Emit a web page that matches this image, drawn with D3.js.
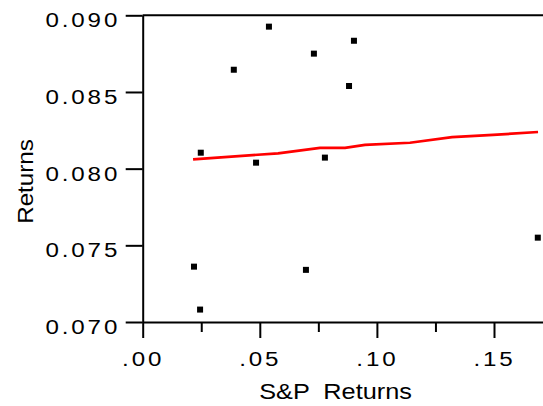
<!DOCTYPE html>
<html lang='en'>
	<head>
		<meta charset='utf-8'>
		<title>Returns vs S&amp;P Returns</title>
		<script type='text/javascript' src='https://d3js.org/d3.v7.min.js'></script>
		<style type='text/css'>
			body { margin: 0; background: white; }
			svg { display: block; }
			text { font-family: Arial, 'Liberation Sans', sans-serif; fill: black; }
		</style>
	</head>
	<body>
		<script type='text/javascript'>
			// scatter points (x = S&P returns, y = returns)
			var spReturns = [0.0539, 0.0902, 0.0731, 0.0389, 0.0881, 0.0248, 0.0484, 0.0778, 0.0219, 0.0245, 0.0697, 0.1687];
			var returns   = [0.08926, 0.08834, 0.0875, 0.08645, 0.08539, 0.08104, 0.08039, 0.08072, 0.07361, 0.07081, 0.0734, 0.0755];

			// red fit line
			var fitX = [0.0215, 0.0578, 0.0757, 0.0864, 0.0949, 0.1141, 0.1321, 0.1496, 0.1688];
			var fitY = [0.08061, 0.08100, 0.08135, 0.08135, 0.08155, 0.08169, 0.08205, 0.08220, 0.08239];

			var xTicks = [0, 0.05, 0.10, 0.15];
			var xMinorTicks = [0.025, 0.075, 0.125];
			var yTicks = [0.070, 0.075, 0.080, 0.085, 0.090];

			var w = 543;
			var h = 406;
			var plotLeft = 142.7;
			var plotTop = 15.3;
			var plotBottom = 322;
			var sx = 1.15; // labels look horizontally stretched in the original

			var svg = d3.select('body')
									.append('svg')
									.attr('width', w)
									.attr('height', h);

			var xScale = d3.scaleLinear()
										.domain([0, (w - plotLeft) / 2342])
										.range([plotLeft, w]);

			var yScale = d3.scaleLinear()
										.domain([0.070, 0.090])
										.range([plotBottom, plotTop]);

			// top frame line
			svg.append('line')
				.attr('x1', plotLeft).attr('x2', w)
				.attr('y1', yScale(0.090)).attr('y2', yScale(0.090))
				.attr('stroke', 'black')
				.attr('stroke-width', 2);

			// minor x ticks
			svg.append('g')
				.attr('transform', 'translate(0,' + plotBottom + ')')
				.call(d3.axisBottom(xScale).tickValues(xMinorTicks).tickSize(10).tickFormat(''))
				.call(function(g) { g.select('.domain').remove(); })
				.selectAll('line').attr('stroke-width', 2);

			// x axis
			var xAxis = svg.append('g')
				.attr('transform', 'translate(0,' + plotBottom + ')')
				.call(d3.axisBottom(xScale)
					.tickValues(xTicks)
					.tickSize(16)
					.tickSizeOuter(0)
					.tickFormat(function(d) { return d3.format('.2f')(d).replace(/^0/, ''); }));
			xAxis.select('.domain').attr('stroke-width', 2);
			xAxis.selectAll('.tick line').attr('stroke-width', 2);
			xAxis.selectAll('.tick text')
				.attr('x', 0)
				.attr('y', 44)
				.attr('dy', 0)
				.attr('transform', 'scale(' + sx + ',1)')
				.style('font-size', '21px')
				.style('letter-spacing', '2.5px')
				.style('font-family', 'Arial, Liberation Sans, sans-serif');

			// y axis
			var yAxis = svg.append('g')
				.attr('transform', 'translate(' + plotLeft + ',0)')
				.call(d3.axisLeft(yScale)
					.tickValues(yTicks)
					.tickSize(17)
					.tickSizeOuter(0)
					.tickFormat(d3.format('.3f')));
			yAxis.select('.domain').attr('stroke-width', 2);
			yAxis.selectAll('.tick line').attr('stroke-width', 2);
			yAxis.selectAll('.tick text')
				.attr('x', -22.5 / sx)
				.attr('dy', '0.55em')
				.attr('transform', 'scale(' + sx + ',1)')
				.style('font-size', '21px')
				.style('letter-spacing', '2.5px')
				.style('font-family', 'Arial, Liberation Sans, sans-serif');

			// fit line
			var line = d3.line()
				.x(function(d) { return xScale(d[0]); })
				.y(function(d) { return yScale(d[1]); });

			svg.append('path')
				.datum(d3.zip(fitX, fitY))
				.attr('d', line)
				.attr('fill', 'none')
				.attr('stroke', '#ff0000')
				.attr('stroke-width', 2.7);

			// points
			svg.selectAll('rect.pt')
				.data(d3.zip(spReturns, returns))
				.enter()
				.append('rect')
				.attr('class', 'pt')
				.attr('x', function(d) { return xScale(d[0]) - 3; })
				.attr('y', function(d) { return yScale(d[1]) - 3; })
				.attr('width', 6)
				.attr('height', 6)
				.attr('fill', 'black');

			// axis titles
			svg.append('text')
				.attr('transform', 'translate(335.5,399) scale(' + sx + ',1)')
				.attr('text-anchor', 'middle')
				.style('font-size', '22px')
				.style('white-space', 'pre')
				.text('S&P  Returns');

			svg.append('text')
				.attr('transform', 'translate(33,181.5) rotate(-90) scale(1.1,1)')
				.attr('text-anchor', 'middle')
				.style('font-size', '22px')
				.text('Returns');
		</script>
	</body>
</html>
